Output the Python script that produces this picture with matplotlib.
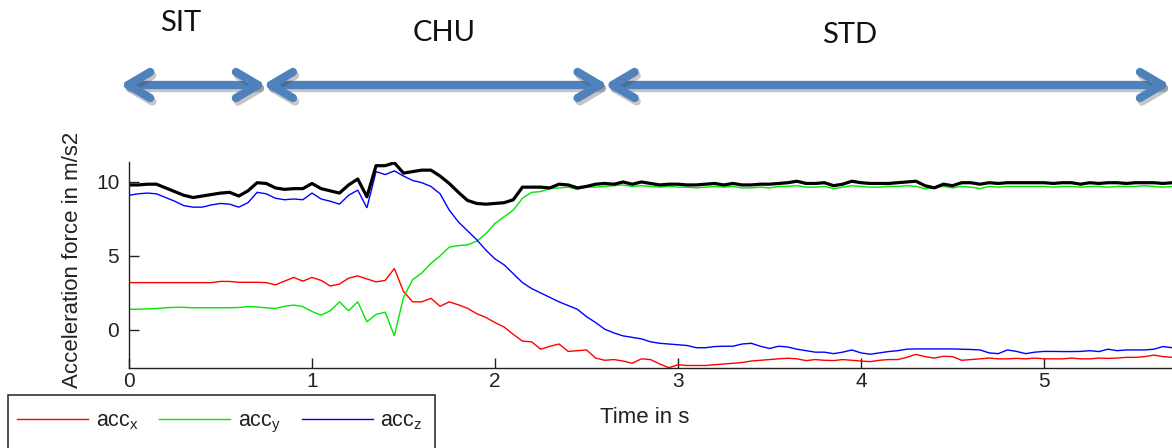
import numpy as np
import matplotlib
matplotlib.use("Agg")
import matplotlib.pyplot as plt
import matplotlib.patheffects as pe
from matplotlib.lines import Line2D
from matplotlib.patches import Rectangle
from matplotlib.transforms import IdentityTransform

plt.rcParams['font.family'] = ['Liberation Sans', 'DejaVu Sans']
plt.rcParams['mathtext.default'] = 'regular'

# ---------------- data ----------------
sample_rate_hz = 20

acc_x = [3.2, 3.2, 3.2, 3.2, 3.2, 3.2, 3.2, 3.2, 3.2, 3.2,
         3.28, 3.28, 3.22, 3.22, 3.22, 3.2, 3.05, 3.3, 3.55, 3.3,
         3.55, 3.35, 2.97, 3.1, 3.5, 3.65, 3.45, 3.25, 3.35, 4.15,
         2.6, 1.9, 1.9, 2.14, 1.6, 1.9, 1.7, 1.46, 1.1, 0.85,
         0.5, 0.2, -0.3, -0.75, -0.8, -1.3, -1.1, -0.95, -1.45, -1.4,
         -1.35, -1.9, -2.05, -2.0, -2.1, -2.25, -1.95, -2.0, -2.3, -2.55,
         -2.35, -2.4, -2.4, -2.4, -2.35, -2.3, -2.25, -2.2, -2.1, -2.05,
         -2.0, -1.95, -1.91, -1.95, -2.07, -2.0, -2.05, -2.07, -2.0, -2.05,
         -2.1, -2.14, -2.05, -2.0, -2.0, -1.85, -1.65, -1.8, -1.9, -1.78,
         -1.8, -2.05, -2.0, -1.95, -1.9, -1.95, -1.95, -1.92, -1.95, -1.9,
         -1.95, -1.95, -1.95, -1.9, -1.95, -1.95, -1.9, -1.92, -1.9, -1.85,
         -1.85, -1.8, -1.7, -1.8, -1.85]

acc_y = [1.4, 1.4, 1.42, 1.45, 1.5, 1.53, 1.53, 1.5, 1.5, 1.5,
         1.5, 1.5, 1.52, 1.58, 1.55, 1.5, 1.45, 1.6, 1.68, 1.58,
         1.25, 1.0, 1.3, 1.9, 1.3, 1.9, 0.55, 1.05, 1.2, -0.4,
         2.2, 3.4, 3.85, 4.5, 5.0, 5.6, 5.7, 5.75, 6.0, 6.5,
         7.2, 7.65, 8.1, 8.9, 9.3, 9.35, 9.55, 9.6, 9.65, 9.5,
         9.65, 9.65, 9.7, 9.75, 9.8, 9.7, 9.75, 9.7, 9.65, 9.7,
         9.65, 9.65, 9.6, 9.65, 9.7, 9.65, 9.7, 9.6, 9.6, 9.65,
         9.6, 9.7, 9.7, 9.75, 9.65, 9.65, 9.7, 9.55, 9.65, 9.75,
         9.7, 9.65, 9.65, 9.7, 9.7, 9.75, 9.7, 9.55, 9.6, 9.7,
         9.6, 9.7, 9.65, 9.55, 9.7, 9.65, 9.7, 9.7, 9.7, 9.7,
         9.7, 9.65, 9.7, 9.7, 9.65, 9.7, 9.7, 9.65, 9.7, 9.7,
         9.7, 9.75, 9.7, 9.65, 9.7]

acc_z = [9.1, 9.2, 9.25, 9.2, 8.95, 8.7, 8.4, 8.3, 8.3, 8.45,
         8.55, 8.5, 8.3, 8.6, 9.3, 9.2, 8.9, 8.8, 8.85, 8.8,
         9.25, 8.85, 8.7, 8.5, 9.1, 9.45, 8.25, 10.7, 10.5, 10.75,
         10.4, 10.1, 9.95, 9.7, 9.2, 8.1, 7.3, 6.7, 6.1, 5.4,
         4.8, 4.4, 3.8, 3.2, 2.8, 2.5, 2.2, 1.9, 1.65, 1.4,
         0.9, 0.5, 0.05, -0.2, -0.4, -0.5, -0.6, -0.8, -0.9, -0.95,
         -1.0, -1.05, -1.2, -1.2, -1.12, -1.1, -1.1, -0.95, -0.9, -1.1,
         -1.25, -1.1, -1.15, -1.3, -1.4, -1.5, -1.5, -1.6, -1.5, -1.35,
         -1.55, -1.64, -1.55, -1.46, -1.4, -1.3, -1.28, -1.28, -1.28, -1.28,
         -1.28, -1.3, -1.32, -1.35, -1.55, -1.6, -1.35, -1.45, -1.6, -1.5,
         -1.45, -1.45, -1.46, -1.46, -1.45, -1.4, -1.46, -1.3, -1.4, -1.35,
         -1.35, -1.35, -1.3, -1.12, -1.2]

acc_mag = [9.8, 9.8, 9.85, 9.85, 9.6, 9.35, 9.1, 8.95, 9.05, 9.15,
           9.25, 9.3, 9.05, 9.4, 9.95, 9.9, 9.6, 9.5, 9.55, 9.55,
           9.9, 9.55, 9.4, 9.25, 9.8, 10.2, 9.0, 11.1, 11.1, 11.3,
           10.6, 10.7, 10.8, 10.8, 10.4, 9.9, 9.3, 8.75, 8.55, 8.5,
           8.55, 8.6, 8.8, 9.65, 9.65, 9.65, 9.6, 9.85, 9.8, 9.6,
           9.7, 9.85, 9.9, 9.85, 10.0, 9.85, 10.0, 9.9, 9.8, 9.85,
           9.85, 9.8, 9.8, 9.85, 9.9, 9.8, 9.9, 9.8, 9.8, 9.85,
           9.85, 9.9, 9.95, 10.05, 9.9, 9.9, 9.95, 9.75, 9.85, 10.05,
           9.95, 9.9, 9.9, 9.9, 9.95, 10.0, 10.05, 9.75, 9.6, 9.85,
           9.75, 9.95, 9.95, 9.85, 9.95, 9.9, 9.95, 9.95, 9.95, 9.95,
           9.95, 9.9, 9.95, 9.95, 9.85, 9.95, 9.9, 9.95, 9.95, 9.9,
           9.95, 9.95, 9.95, 9.9, 9.95]

time_s = np.arange(len(acc_x)) / sample_rate_hz

phase_names = ["SIT", "CHU", "STD"]
phase_bounds_s = [-0.04, 0.74, 2.607, 5.68]
phase_label_t = [0.28, 1.72, 3.94]

x_ticks = [0, 1, 2, 3, 4, 5]
y_ticks = [0, 5, 10]
legend_labels = ['acc$_{x}$', 'acc$_{y}$', 'acc$_{z}$']
series_colors = ['#ff0000', '#00e600', '#0000ff']

# ---------------- figure ----------------
W, H = 1172, 448
fig = plt.figure(figsize=(W / 100, H / 100), dpi=100)
fig.patch.set_facecolor('white')

ax_left, ax_bottom, ax_w, ax_h = 129, 448 - 368, 1098, 206
ax = fig.add_axes([ax_left / W, ax_bottom / H, ax_w / W, ax_h / H])

for vals, col in zip([acc_x, acc_y, acc_z], series_colors):
    ax.plot(time_s, vals, color=col, lw=1.0, solid_joinstyle='miter')
ax.plot(time_s, acc_mag, color='black', lw=2.3)

ax.set_xlim(0, 6)
ax.set_ylim(-2.57, 11.35)
ax.set_xticks(x_ticks)
ax.set_yticks(y_ticks)
ax.spines['top'].set_visible(False)
ax.spines['right'].set_visible(False)
for s in ['left', 'bottom']:
    ax.spines[s].set_linewidth(1.0)
    ax.spines[s].set_color('#222222')
ax.tick_params(axis='both', direction='in', length=7, width=1.0,
               colors='#222222', labelsize=15)
ax.tick_params(axis='x', pad=3)
ax.tick_params(axis='y', pad=7)

ax.set_xlabel('Time in s', fontsize=16, color='#222222')
ax.xaxis.set_label_coords((645 - ax_left) / ax_w, -(417 - 368) / ax_h)
ax.xaxis.label.set_va('center')
ax.set_ylabel('Acceleration force in m/s2', fontsize=16, color='#222222')
ax.yaxis.set_label_coords((73 - ax_left) / ax_w, (368 - 260) / ax_h)
ax.yaxis.label.set_va('center')

# ---------------- legend box ----------------
rect = Rectangle((8 / W, (448 - 470) / H), 427 / W, (470 - 395) / H,
                 transform=fig.transFigure, facecolor='white',
                 edgecolor='#222222', lw=1.1, zorder=4)
fig.add_artist(rect)
handles = [Line2D([0], [0], color=c, lw=1.0) for c in series_colors]
leg = fig.legend(handles, legend_labels, loc='upper left',
                 bbox_to_anchor=(13 / W, 1 - 406 / H),
                 bbox_transform=fig.transFigure, ncol=3, frameon=False,
                 fontsize=15.5, handlelength=3.3, handletextpad=0.35,
                 columnspacing=0.95, borderpad=0.2, borderaxespad=0)
leg.set_zorder(5)
for t in leg.get_texts():
    t.set_color('#222222')

# ---------------- phase arrows ----------------
arrow_color = '#4f81bd'
y_disp = 448 - 85
gap = 5
cap = 4
arm_dx, arm_dy = 22, 13
shadow = [pe.SimpleLineShadow(offset=(1.5, -2.5), shadow_color='#444444', alpha=0.3),
          pe.Normal()]


def tpx(t):
    return ax.transData.transform((t, 0))[0]


for i, name in enumerate(phase_names):
    a = tpx(phase_bounds_s[i]) + gap / 2 + cap
    b = tpx(phase_bounds_s[i + 1]) - gap / 2 - cap
    segs = [([a, b], [y_disp, y_disp]),
            ([a + arm_dx, a, a + arm_dx], [y_disp + arm_dy, y_disp, y_disp - arm_dy]),
            ([b - arm_dx, b, b - arm_dx], [y_disp + arm_dy, y_disp, y_disp - arm_dy])]
    for xs, ys in segs:
        ln = Line2D(xs, ys, transform=IdentityTransform(), color=arrow_color,
                    lw=6, solid_capstyle='round', solid_joinstyle='round',
                    path_effects=shadow)
        fig.add_artist(ln)

label_y_px = [23, 33, 35]
for name, tl, yp in zip(phase_names, phase_label_t, label_y_px):
    fig.text(tpx(tl) / W, 1 - yp / H, name, ha='center', va='center',
             fontsize=21, family=['Lato', 'DejaVu Sans'], color='#111111')

fig.savefig('out.png', dpi=100)
